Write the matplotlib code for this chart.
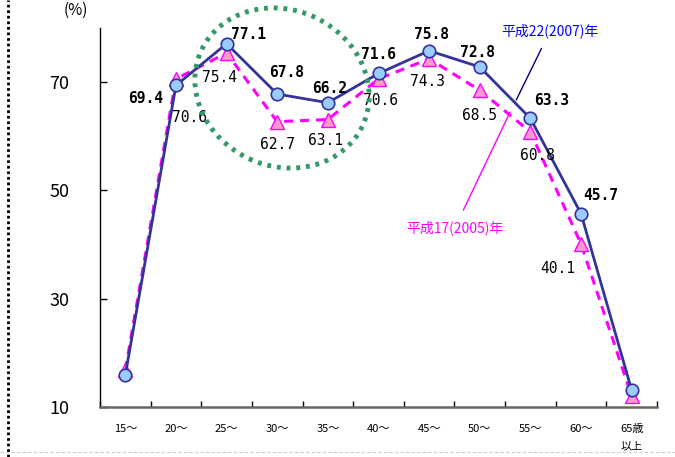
import matplotlib
matplotlib.use("Agg")
import matplotlib.pyplot as plt
import numpy as np
from matplotlib.patches import Ellipse
from matplotlib.lines import Line2D

plt.rcParams['font.family'] = ['Noto Sans CJK JP', 'DejaVu Sans']

# 年齢階級別の就業率 (%)
ages = ['15～', '20～', '25～', '30～', '35～', '40～', '45～', '50～', '55～', '60～', '65歳\n以上']
rate_2007 = [15.9, 69.4, 77.1, 67.8, 66.2, 71.6, 75.8, 72.8, 63.3, 45.7, 13.1]
rate_2005 = [16.8, 70.6, 75.4, 62.7, 63.1, 70.6, 74.3, 68.5, 60.8, 40.1, 12.0]
yticks = [10, 30, 50, 70]

# ラベルの表示位置 (pixel offset)
off_2007 = [None, (-30, -13), (22, 9), (9, 22), (2, 14), (0, 19), (2, 16), (-2, 14), (21, 18), (20, 18), None]
off_2005 = [None, (14, -39), (-7, -25), (0, -23), (-2, -21), (2, -22), (-2, -23), (0, -25), (7, -24), (-23, -24), None]

fig = plt.figure(figsize=(6.75, 4.57), dpi=100)
ax = fig.add_axes([100 / 675, 50 / 457, 557 / 675, 379 / 457])

x = np.arange(len(ages))
ax.plot(x, rate_2005, color='#ff00ff', lw=2.2, dashes=(3.0, 2.2), marker='^', ms=10,
        mfc='#ff99cc', mec='#ff00ff', mew=1.0, zorder=2)
ax.plot(x, rate_2007, color='#333399', lw=2.0, marker='o', ms=9,
        mfc='#99ccff', mec='#333399', mew=1.2, zorder=3)

for i in range(len(ages)):
    if off_2007[i] is not None:
        ax.annotate(f'{rate_2007[i]:.1f}', (x[i], rate_2007[i]), xytext=off_2007[i],
                    textcoords='offset pixels', ha='center', va='center',
                    fontsize=10.5, fontweight='bold', color='black', family='DejaVu Sans Mono')
    if off_2005[i] is not None:
        ax.annotate(f'{rate_2005[i]:.1f}', (x[i], rate_2005[i]), xytext=off_2005[i],
                    textcoords='offset pixels', ha='center', va='center',
                    fontsize=10.5, color='black', family='DejaVu Sans Mono')

ax.set_xlim(-0.5, len(ages) - 0.5)
ax.set_ylim(10, 80)
ax.set_yticks(yticks)
ax.set_yticklabels([str(v) for v in yticks], fontsize=13)
ax.set_xticks(x)
ax.set_xticklabels(ages, fontsize=8, linespacing=1.9, va='top')
ax.set_xticks(np.arange(len(ages) + 1) - 0.5, minor=True)
ax.tick_params(axis='x', which='major', length=0, pad=12)
ax.tick_params(axis='x', which='minor', direction='in', length=4, width=1)
ax.tick_params(axis='y', direction='in', length=5, width=1, pad=22)

ax.spines['top'].set_visible(False)
ax.spines['right'].set_visible(False)
ax.spines['left'].set_linewidth(1.0)
ax.spines['bottom'].set_color('#666666')
ax.spines['bottom'].set_linewidth(1.8)

# 凡例代わりの引き出し線
ax.annotate('平成22(2007)年', xy=(7.72, 66.7), xytext=(8.39, 79.5),
            textcoords='data', ha='center', va='center', fontsize=10, color='#0000ff',
            annotation_clip=False,
            arrowprops=dict(arrowstyle='-', color='#000080', lw=1.0, shrinkA=6, shrinkB=0))
ax.annotate('平成17(2005)年', xy=(7.6, 64.5), xytext=(6.51, 43.1),
            textcoords='data', ha='center', va='center', fontsize=10, color='#ff00ff',
            arrowprops=dict(arrowstyle='-', color='#ff00ff', lw=1.0, shrinkA=6, shrinkB=0))

fig.text(76 / 675, 1 - 10 / 457, '(%)', ha='center', va='center', fontsize=11)

# 注目部分を囲む楕円
ell = Ellipse((2.82, 4.57 - 0.88), 1.78, 1.56, angle=-25, transform=fig.dpi_scale_trans,
              fill=False, edgecolor='#339966', lw=3.5, linestyle=(0, (0.8, 1.2)))
fig.add_artist(ell)

# ページの枠線
fig.add_artist(Line2D([8 / 675, 8 / 675], [0, 1], transform=fig.transFigure,
                      color='black', lw=2, linestyle=(0, (1, 1))))
fig.add_artist(Line2D([0, 1], [5 / 457, 5 / 457], transform=fig.transFigure,
                      color='#cccccc', lw=0.8, linestyle=(0, (3, 2))))

fig.savefig('out.png', dpi=100)
